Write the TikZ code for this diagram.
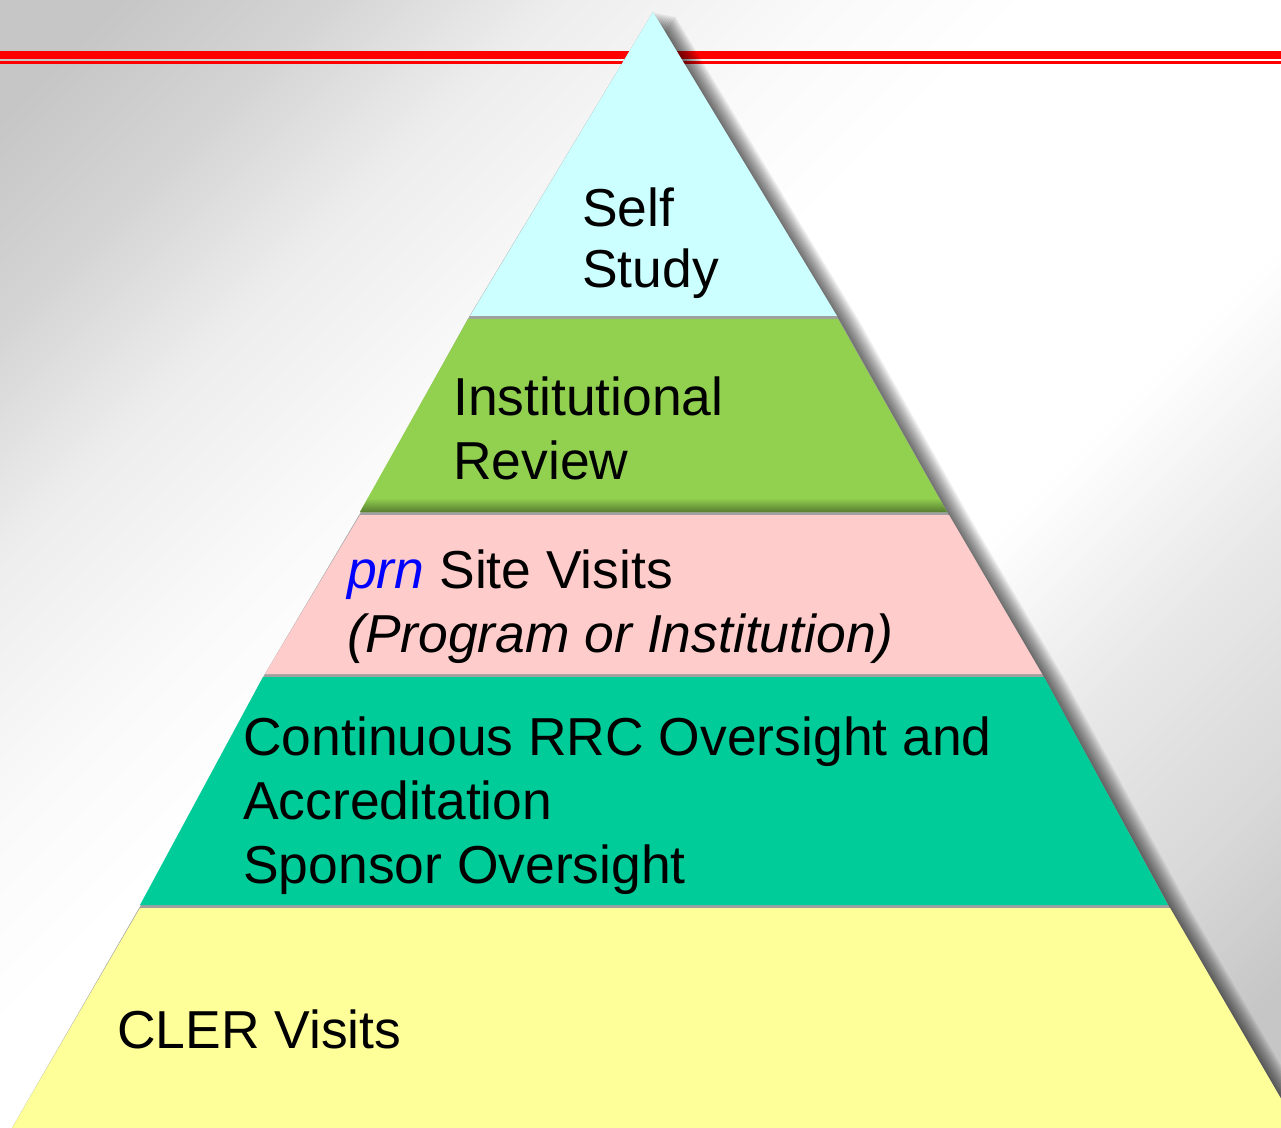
\documentclass[tikz,border=0pt]{standalone}
\usepackage{fontspec}
\setmainfont{Liberation Sans}

\definecolor{bggrey}{HTML}{C6C6C6}
\definecolor{selfcyan}{HTML}{CCFFFF}
\definecolor{instgreen}{HTML}{92D050}
\definecolor{sitepink}{HTML}{FFCCCC}
\definecolor{rrcteal}{HTML}{00CC99}
\definecolor{clerylw}{HTML}{FFFF99}
\definecolor{sepgrey}{HTML}{A0A0A0}

% grey corners, a broad white band in between
\pgfdeclareverticalshading{backdrop}{100bp}{color(0bp)=(bggrey); color(18.5bp)=(bggrey);
  color(24.8bp)=(white!85!black); color(32.4bp)=(white!91!black); color(40.5bp)=(white);
  color(55bp)=(white); color(61bp)=(white!98!black); color(69bp)=(white!93!black);
  color(76bp)=(white!83!black); color(82bp)=(bggrey); color(100bp)=(bggrey)}

\newcommand{\pyramidoutline}{(653,12) -- (837.5,317) -- (948,513.5) -- (1043,675.5) -- (1169,906.5) -- (1305,1140)
  -- (5,1140) -- (140,906.5) -- (264,675.5) -- (360,513.5) -- (469,317) -- cycle}

\tikzset{
  lbl/.style={font=\fontsize{38}{45.5}\selectfont, align=left, inner sep=0pt, anchor=base west},
}

\begin{document}
\begin{tikzpicture}[x=.025cm, y=-.025cm]

\useasboundingbox (0,0) rectangle (1281,1128);
\clip (0,0) rectangle (1281,1128);

\path[shading=backdrop, shading angle=45] (0,0) rectangle (1281,1128);

\path[fill=red] (0,51) rectangle (1281,59);
\path[fill=red] (0,61.5) rectangle (1281,64.5);


% soft shadow to the right: stacked, shifted copies
\foreach \s in {2,4,...,22}
  \path[fill=black, fill opacity=.065, shift={(\s,\s*.2)}] \pyramidoutline;

% the pyramid, grey shows through between the layers
\path[fill=sepgrey] \pyramidoutline;

\path[fill=selfcyan] (653,12) -- (837,316) -- (470,316) -- cycle;

\path[fill=instgreen] (468,319) -- (838,319) -- (947,512) -- (360,512) -- cycle;
\path[top color=instgreen, bottom color=instgreen!60!black] (368,498) -- (939,498) -- (947,512) -- (360,512) -- cycle;

\path[fill=sitepink] (360,515) -- (949,515) -- (1042,674) -- (265,674) -- cycle;

\path[fill=rrcteal] (263,677) -- (1044,677) -- (1168,905) -- (140,905) -- cycle;

\path[fill=clerylw] (140,908) -- (1170,908) -- (1305,1140) -- (5,1140) -- cycle;


% layer texts (placed at the baseline of their last line)
\node[lbl, font=\fontsize{38}{43.4}\selectfont] (self) at (582,288) {Self\\Study};
\node[lbl] (inst) at (453,479) {Institutional\\Review};
\node[lbl] (site) at (347,652) {\textcolor{blue}{\itshape prn} Site Visits\\\itshape(Program or Institution)};
\node[lbl] (rrc) at (243,883) {Continuous RRC Oversight and\\Accreditation\\Sponsor Oversight};
\node[lbl] (cler) at (117,1048) {CLER Visits};

\end{tikzpicture}
\end{document}
